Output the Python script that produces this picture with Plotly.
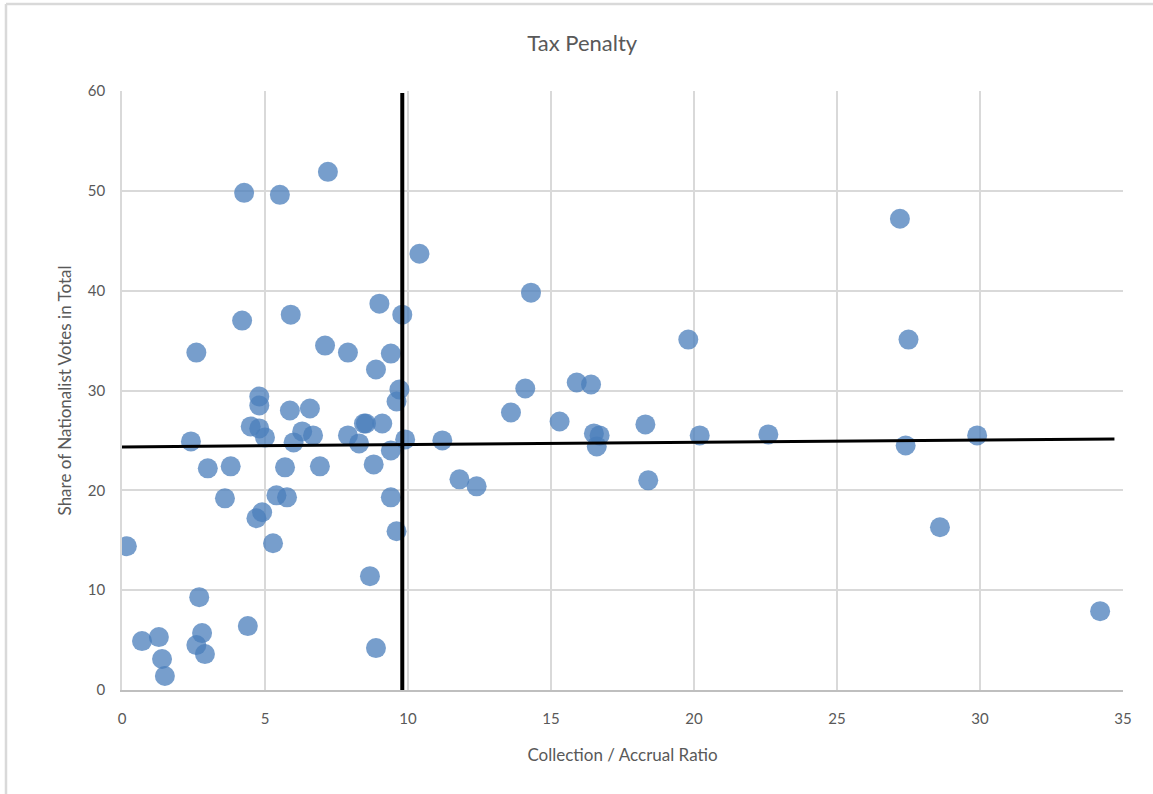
import plotly.graph_objects as go

# Collection / Accrual Ratio (x) and Share of Nationalist Votes in Total (y)
ratio = [0.17, 0.7, 1.29, 1.4, 1.5, 2.41, 2.6, 2.7, 2.6, 2.8, 2.9, 3.0, 3.6, 3.8, 4.2, 4.27,
         4.4, 4.5, 4.7, 4.8, 4.8, 4.8, 4.9, 5.0, 5.28, 5.4, 5.52, 5.7, 5.77, 5.87, 5.9, 6.0,
         6.3, 6.57, 6.68, 6.92, 7.1, 7.2, 7.9, 7.9, 8.29, 8.46, 8.53, 8.67, 8.8, 8.88, 8.88,
         9.0, 9.1, 9.4, 9.4, 9.4, 9.6, 9.6, 9.7, 9.8, 9.9, 10.4, 11.2, 11.8, 12.4, 13.6,
         14.1, 14.3, 15.3, 15.9, 16.4, 16.5, 16.6, 16.7, 18.3, 18.4, 19.8, 20.2, 22.6, 27.2,
         27.4, 27.5, 28.6, 29.9, 34.2]
share = [14.4, 4.9, 5.3, 3.1, 1.4, 24.9, 33.8, 9.3, 4.5, 5.7, 3.6, 22.2, 19.2, 22.4, 37.0, 49.8,
         6.4, 26.4, 17.2, 29.4, 28.5, 26.2, 17.8, 25.3, 14.7, 19.5, 49.6, 22.3, 19.3, 28.0, 37.6, 24.8,
         25.9, 28.2, 25.5, 22.4, 34.5, 51.9, 33.8, 25.5, 24.7, 26.7, 26.7, 11.4, 22.6, 32.1, 4.2,
         38.7, 26.7, 33.7, 19.3, 24.0, 28.9, 15.9, 30.1, 37.6, 25.1, 43.7, 25.0, 21.1, 20.4, 27.8,
         30.2, 39.8, 26.9, 30.8, 30.6, 25.7, 24.4, 25.5, 26.6, 21.0, 35.1, 25.5, 25.6, 47.2,
         24.5, 35.1, 16.3, 25.5, 7.9]

# Reference lines
vline_x = [9.8, 9.8]
vline_y = [0, 59.8]
hline_x = [0, 34.7]
hline_y = [24.35, 25.15]

x_ticks = [0, 5, 10, 15, 20, 25, 30, 35]
y_ticks = [0, 10, 20, 30, 40, 50, 60]

FONT = "Lato"
GRAY_TXT = "#595959"
BORDER = "#d9d9d9"

fig = go.Figure()
fig.add_trace(go.Scatter(
    x=ratio, y=share, mode="markers",
    marker=dict(size=20, color="#4A7EBB", opacity=0.75, line=dict(width=0)),
    showlegend=False, hoverinfo="x+y"))
fig.add_trace(go.Scatter(x=vline_x, y=vline_y, mode="lines",
                         line=dict(color="black", width=4), showlegend=False))
fig.add_trace(go.Scatter(x=hline_x, y=hline_y, mode="lines",
                         line=dict(color="black", width=3), showlegend=False))

fig.update_layout(
    width=1153, height=794,
    paper_bgcolor="white", plot_bgcolor="white",
    margin=dict(l=122, r=30, t=91, b=104),
    title=dict(text="Tax Penalty", x=0.505, xanchor="center", y=0.946, yanchor="middle",
               font=dict(family=FONT, size=22, color=GRAY_TXT)),
    font=dict(family=FONT, color=GRAY_TXT),
    shapes=[
        dict(type="line", xref="paper", yref="paper", x0=-0.1159, x1=-0.1159,
             y0=-0.2, y1=1.1452, line=dict(color=BORDER, width=2.5)),
        dict(type="line", xref="paper", yref="paper", x0=-0.1159, x1=1.1,
             y0=1.1452, y1=1.1452, line=dict(color=BORDER, width=2.5)),
    ],
)
fig.update_xaxes(
    range=[0, 35], tickvals=x_ticks, showgrid=True, gridcolor=BORDER, gridwidth=1.5,
    showline=True, linecolor="#bfbfbf", linewidth=1.5, zeroline=False,
    ticks="outside", ticklen=0, ticklabelstandoff=14,
    tickfont=dict(family=FONT, size=15, color=GRAY_TXT),
    title=dict(text="Collection / Accrual Ratio", standoff=23,
               font=dict(family=FONT, size=17, color=GRAY_TXT)))
fig.update_yaxes(
    range=[0, 60], tickvals=y_ticks, showgrid=True, gridcolor=BORDER, gridwidth=1.5,
    showline=True, linecolor=BORDER, linewidth=1.5, zeroline=False,
    ticks="outside", ticklen=0, ticklabelstandoff=12,
    tickfont=dict(family=FONT, size=15, color=GRAY_TXT),
    title=dict(text="Share of Nationalist Votes in Total", standoff=12,
               font=dict(family=FONT, size=17, color=GRAY_TXT)))

fig.write_html("out.html", config={"displayModeBar": False},
               post_script="document.body.style.margin='0';document.body.style.overflow='hidden';")
